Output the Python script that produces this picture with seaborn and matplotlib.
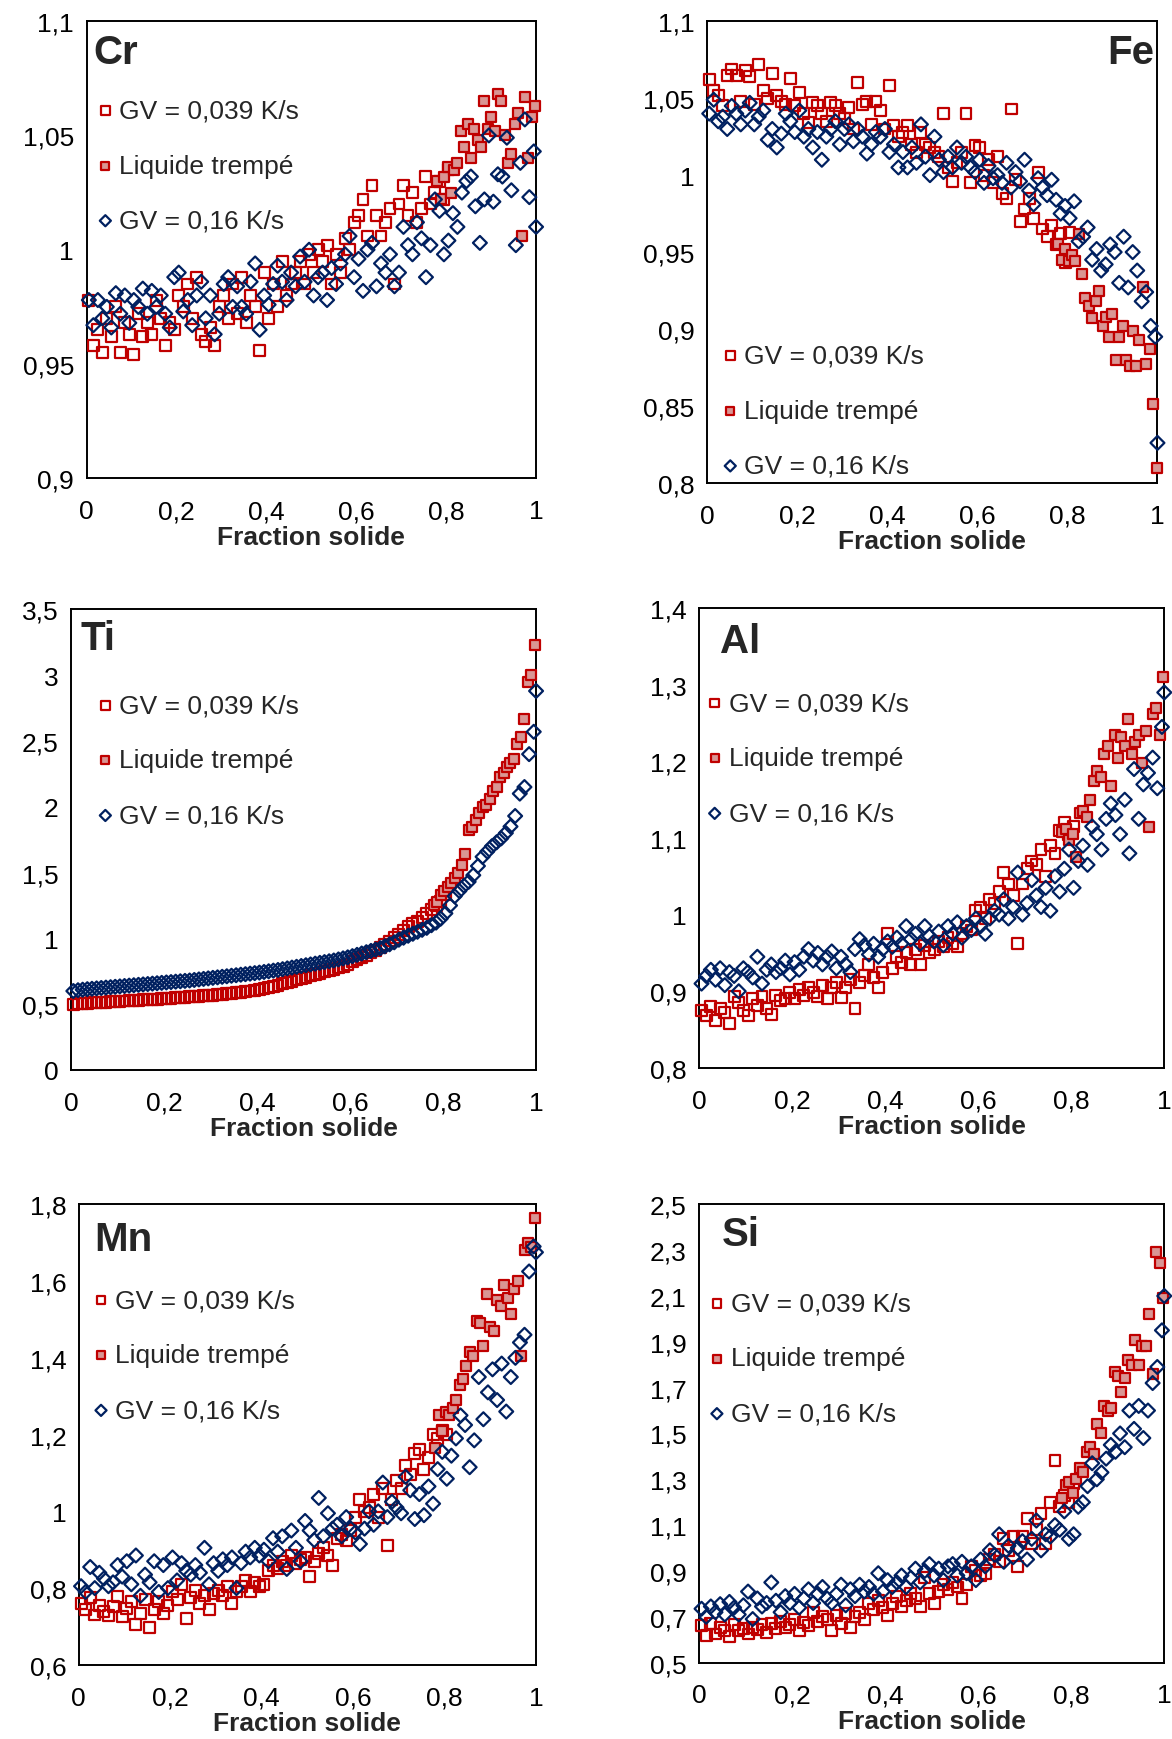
import matplotlib
matplotlib.use("Agg")
import matplotlib.pyplot as plt
from matplotlib.ticker import FuncFormatter
import seaborn as sns

# fraction solide positions of each series
FS_039 = [0.005, 0.015, 0.025, 0.035, 0.045, 0.055, 0.065, 0.075, 0.085, 0.095,
          0.105, 0.115, 0.125, 0.135, 0.145, 0.155, 0.165, 0.175, 0.185, 0.195,
          0.205, 0.215, 0.225, 0.235, 0.245, 0.255, 0.265, 0.275, 0.285, 0.295,
          0.305, 0.315, 0.325, 0.335, 0.345, 0.355, 0.365, 0.375, 0.385, 0.395,
          0.405, 0.415, 0.425, 0.435, 0.445, 0.455, 0.465, 0.475, 0.485, 0.495,
          0.505, 0.515, 0.525, 0.535, 0.545, 0.555, 0.565, 0.575, 0.585, 0.595,
          0.605, 0.615, 0.625, 0.635, 0.645, 0.655, 0.665, 0.675, 0.685, 0.695,
          0.705, 0.715, 0.725, 0.735, 0.745, 0.755, 0.765, 0.775, 0.785, 0.795,
          0.805]
FS_LT = [0.780, 0.788, 0.795, 0.803, 0.810, 0.818, 0.825, 0.833, 0.840, 0.848,
         0.855, 0.863, 0.870, 0.878, 0.885, 0.893, 0.900, 0.908, 0.915, 0.923,
         0.930, 0.938, 0.945, 0.953, 0.960, 0.968, 0.975, 0.983, 0.990, 0.998]
FS_016 = [0.005, 0.015, 0.025, 0.035, 0.045, 0.055, 0.065, 0.075, 0.085, 0.095,
          0.105, 0.115, 0.125, 0.135, 0.145, 0.155, 0.165, 0.175, 0.185, 0.195,
          0.205, 0.215, 0.225, 0.235, 0.245, 0.255, 0.265, 0.275, 0.285, 0.295,
          0.305, 0.315, 0.325, 0.335, 0.345, 0.355, 0.365, 0.375, 0.385, 0.395,
          0.405, 0.415, 0.425, 0.435, 0.445, 0.455, 0.465, 0.475, 0.485, 0.495,
          0.505, 0.515, 0.525, 0.535, 0.545, 0.555, 0.565, 0.575, 0.585, 0.595,
          0.605, 0.615, 0.625, 0.635, 0.645, 0.655, 0.665, 0.675, 0.685, 0.695,
          0.705, 0.715, 0.725, 0.735, 0.745, 0.755, 0.765, 0.775, 0.785, 0.795,
          0.805, 0.815, 0.825, 0.835, 0.845, 0.855, 0.865, 0.875, 0.885, 0.895,
          0.905, 0.915, 0.925, 0.935, 0.945, 0.955, 0.965, 0.975, 0.985, 0.995,
          1.000]

# Cr
CR_039 = [0.978, 0.958, 0.965, 0.955, 0.970, 0.962, 0.975, 0.955, 0.968, 0.963,
          0.954, 0.972, 0.962, 0.968, 0.963, 0.978, 0.970, 0.958, 0.968, 0.965,
          0.980, 0.975, 0.985, 0.970, 0.988, 0.963, 0.960, 0.966, 0.958, 0.975,
          0.980, 0.970, 0.985, 0.972, 0.988, 0.968, 0.980, 0.975, 0.956, 0.990,
          0.970, 0.985, 0.975, 0.995, 0.980, 0.985, 0.990, 0.995, 0.985, 0.998,
          0.990, 1.000, 0.995, 1.002, 0.985, 0.998, 0.990, 1.005, 1.000, 1.012,
          1.015, 1.022, 1.006, 1.028, 1.015, 1.006, 1.012, 1.018, 0.985, 1.020,
          1.028, 1.015, 1.025, 1.012, 1.018, 1.032, 1.020, 1.025, 1.030, 1.022,
          1.035]
CR_LT = [1.030, 1.022, 1.032, 1.036, 1.025, 1.035, 1.038, 1.052, 1.045, 1.055,
         1.040, 1.053, 1.048, 1.045, 1.065, 1.053, 1.058, 1.052, 1.068, 1.065,
         1.050, 1.038, 1.042, 1.055, 1.060, 1.006, 1.067, 1.040, 1.058, 1.063]
CR_016 = [0.978, 0.967, 0.978, 0.970, 0.975, 0.966, 0.981, 0.972, 0.980, 0.968,
          0.978, 0.975, 0.983, 0.972, 0.982, 0.975, 0.980, 0.972, 0.966, 0.988,
          0.990, 0.973, 0.978, 0.967, 0.980, 0.986, 0.970, 0.980, 0.963, 0.972,
          0.985, 0.988, 0.975, 0.984, 0.975, 0.972, 0.986, 0.994, 0.965, 0.980,
          0.976, 0.985, 0.993, 0.986, 0.978, 0.990, 0.984, 0.997, 0.986, 1.000,
          0.980, 0.988, 0.990, 0.978, 0.992, 0.985, 0.994, 0.998, 1.006, 0.988,
          0.996, 0.982, 1.000, 1.003, 0.984, 0.994, 0.990, 0.998, 0.984, 0.990,
          1.010, 1.002, 0.998, 1.012, 1.005, 0.988, 1.002, 1.022, 1.017, 0.998,
          1.004, 1.016, 1.010, 1.025, 1.030, 1.032, 1.019, 1.003, 1.022, 1.050,
          1.021, 1.033, 1.032, 1.049, 1.026, 1.002, 1.038, 1.057, 1.023, 1.043,
          1.010]

# Fe
FE_039 = [1.062, 1.055, 1.052, 1.045, 1.065, 1.069, 1.065, 1.048, 1.068, 1.064,
          1.046, 1.072, 1.055, 1.050, 1.066, 1.052, 1.048, 1.046, 1.063, 1.045,
          1.054, 1.040, 1.034, 1.047, 1.045, 1.040, 1.035, 1.047, 1.045, 1.040,
          1.037, 1.044, 1.030, 1.060, 1.046, 1.048, 1.033, 1.048, 1.042, 1.030,
          1.058, 1.032, 1.025, 1.028, 1.032, 1.020, 1.015, 1.028, 1.020, 1.018,
          1.015, 1.012, 1.040, 1.005, 0.996, 1.008, 1.015, 1.040, 0.995, 1.019,
          1.018, 1.000, 1.010, 0.995, 1.012, 0.988, 0.985, 1.043, 0.997, 0.970,
          0.978, 0.985, 0.972, 1.002, 0.965, 0.960, 0.967, 0.955, 0.962, 0.943,
          0.963]
FE_LT = [0.955, 0.945, 0.952, 0.944, 0.948, 0.944, 0.962, 0.936, 0.920, 0.915,
         0.907, 0.918, 0.925, 0.902, 0.908, 0.895, 0.910, 0.880, 0.895, 0.902,
         0.880, 0.876, 0.899, 0.876, 0.893, 0.927, 0.877, 0.887, 0.851, 0.810]
FE_016 = [1.040, 1.049, 1.035, 1.038, 1.030, 1.045, 1.040, 1.033, 1.042, 1.047,
          1.033, 1.038, 1.042, 1.023, 1.030, 1.018, 1.027, 1.040, 1.035, 1.028,
          1.042, 1.025, 1.030, 1.018, 1.028, 1.010, 1.025, 1.030, 1.035, 1.020,
          1.030, 1.033, 1.022, 1.030, 1.025, 1.014, 1.020, 1.028, 1.025, 1.030,
          1.015, 1.020, 1.005, 1.015, 1.005, 1.018, 1.008, 1.033, 1.012, 1.000,
          1.025, 1.010, 1.002, 1.012, 1.005, 1.018, 1.008, 1.012, 1.005, 1.002,
          1.010, 0.995, 1.006, 0.998, 1.000, 0.995, 1.008, 0.992, 1.002, 0.996,
          1.010, 0.990, 0.981, 0.998, 0.992, 0.987, 0.997, 0.984, 0.975, 0.980,
          0.972, 0.983, 0.957, 0.960, 0.966, 0.945, 0.952, 0.938, 0.942, 0.955,
          0.950, 0.930, 0.960, 0.927, 0.950, 0.938, 0.918, 0.924, 0.902, 0.895,
          0.826]

# Ti
TI_039 = [0.500, 0.502, 0.505, 0.507, 0.510, 0.512, 0.514, 0.516, 0.518, 0.520,
          0.522, 0.524, 0.526, 0.528, 0.530, 0.533, 0.535, 0.537, 0.539, 0.541,
          0.543, 0.546, 0.548, 0.551, 0.553, 0.556, 0.558, 0.561, 0.563, 0.566,
          0.569, 0.572, 0.575, 0.578, 0.582, 0.586, 0.590, 0.595, 0.600, 0.606,
          0.612, 0.620, 0.628, 0.636, 0.645, 0.655, 0.665, 0.675, 0.685, 0.695,
          0.705, 0.715, 0.725, 0.735, 0.745, 0.755, 0.765, 0.775, 0.786, 0.800,
          0.825, 0.840, 0.855, 0.870, 0.890, 0.910, 0.930, 0.955, 0.980, 1.005,
          1.030, 1.060, 1.090, 1.110, 1.130, 1.160, 1.190, 1.220, 1.250, 1.280,
          1.330]
TI_LT = [1.250, 1.280, 1.330, 1.360, 1.390, 1.420, 1.460, 1.500, 1.560, 1.640,
         1.820, 1.850, 1.900, 1.950, 2.000, 2.010, 2.060, 2.120, 2.150, 2.230,
         2.260, 2.300, 2.330, 2.360, 2.480, 2.530, 2.670, 2.950, 3.000, 3.230]
TI_016 = [0.600, 0.606, 0.610, 0.614, 0.617, 0.620, 0.623, 0.626, 0.629, 0.632,
          0.635, 0.638, 0.641, 0.644, 0.647, 0.650, 0.653, 0.656, 0.659, 0.662,
          0.665, 0.668, 0.671, 0.674, 0.677, 0.680, 0.684, 0.688, 0.692, 0.696,
          0.700, 0.704, 0.708, 0.712, 0.716, 0.720, 0.724, 0.728, 0.732, 0.736,
          0.740, 0.745, 0.750, 0.755, 0.760, 0.766, 0.772, 0.778, 0.784, 0.790,
          0.796, 0.802, 0.808, 0.814, 0.820, 0.826, 0.832, 0.840, 0.848, 0.856,
          0.865, 0.875, 0.885, 0.895, 0.905, 0.915, 0.925, 0.940, 0.955, 0.970,
          0.990, 1.005, 1.020, 1.035, 1.050, 1.065, 1.080, 1.100, 1.120, 1.150,
          1.190, 1.250, 1.320, 1.360, 1.400, 1.430, 1.480, 1.550, 1.620, 1.660,
          1.700, 1.730, 1.760, 1.800, 1.850, 1.930, 2.100, 2.150, 2.400, 2.570,
          2.880]

# Al
AL_039 = [0.875, 0.868, 0.880, 0.862, 0.878, 0.872, 0.858, 0.893, 0.885, 0.875,
          0.868, 0.890, 0.882, 0.893, 0.878, 0.870, 0.895, 0.888, 0.890, 0.898,
          0.890, 0.902, 0.895, 0.905, 0.898, 0.893, 0.908, 0.890, 0.905, 0.912,
          0.892, 0.905, 0.915, 0.878, 0.912, 0.920, 0.935, 0.918, 0.905, 0.925,
          0.975, 0.930, 0.945, 0.938, 0.950, 0.935, 0.955, 0.935, 0.960, 0.950,
          0.955, 0.965, 0.958, 0.970, 0.962, 0.958, 0.975, 0.985, 0.980, 1.005,
          1.010, 0.995, 1.020, 1.015, 1.030, 1.055, 1.040, 1.025, 0.962, 1.040,
          1.060, 1.070, 1.065, 1.085, 1.050, 1.090, 1.080, 1.110, 1.120, 1.105,
          1.115]
AL_LT = [1.108, 1.112, 1.098, 1.105, 1.075, 1.133, 1.135, 1.128, 1.150, 1.175,
         1.188, 1.180, 1.210, 1.220, 1.168, 1.235, 1.205, 1.232, 1.220, 1.255,
         1.210, 1.225, 1.235, 1.198, 1.240, 1.115, 1.262, 1.270, 1.235, 1.310]
AL_016 = [0.910, 0.920, 0.928, 0.915, 0.930, 0.908, 0.925, 0.920, 0.900, 0.930,
          0.925, 0.918, 0.945, 0.910, 0.928, 0.935, 0.925, 0.930, 0.940, 0.922,
          0.938, 0.928, 0.945, 0.955, 0.940, 0.950, 0.935, 0.945, 0.952, 0.930,
          0.945, 0.935, 0.925, 0.955, 0.968, 0.960, 0.948, 0.962, 0.945, 0.955,
          0.965, 0.958, 0.970, 0.962, 0.985, 0.968, 0.975, 0.962, 0.985, 0.972,
          0.965, 0.978, 0.960, 0.985, 0.975, 0.990, 0.970, 0.985, 0.980, 0.995,
          0.985, 0.975, 0.995, 1.005, 1.000, 1.020, 0.995, 1.010, 1.055, 1.000,
          1.015, 1.045, 1.025, 1.010, 1.035, 1.005, 1.050, 1.030, 1.060, 1.085,
          1.035, 1.070, 1.090, 1.065, 1.115, 1.105, 1.085, 1.125, 1.145, 1.130,
          1.105, 1.150, 1.080, 1.190, 1.125, 1.170, 1.185, 1.205, 1.165, 1.245,
          1.290]

# Mn
MN_039 = [0.760, 0.745, 0.775, 0.730, 0.755, 0.740, 0.728, 0.752, 0.778, 0.725,
          0.748, 0.765, 0.705, 0.735, 0.770, 0.698, 0.745, 0.765, 0.735, 0.755,
          0.790, 0.770, 0.810, 0.722, 0.775, 0.795, 0.760, 0.780, 0.745, 0.785,
          0.795, 0.780, 0.805, 0.760, 0.790, 0.805, 0.820, 0.790, 0.815, 0.805,
          0.810, 0.845, 0.860, 0.850, 0.870, 0.860, 0.885, 0.865, 0.875, 0.880,
          0.830, 0.870, 0.890, 0.905, 0.885, 0.860, 0.930, 0.940, 0.925, 0.950,
          0.985, 1.030, 1.000, 1.010, 1.045, 0.985, 1.060, 0.910, 1.030, 1.080,
          1.060, 1.120, 1.095, 1.150, 1.160, 1.110, 1.140, 1.200, 1.190, 1.210,
          1.200]
MN_LT = [1.165, 1.250, 1.210, 1.260, 1.250, 1.270, 1.290, 1.330, 1.345, 1.380,
         1.415, 1.405, 1.495, 1.490, 1.430, 1.565, 1.480, 1.470, 1.550, 1.535,
         1.590, 1.555, 1.515, 1.580, 1.600, 1.405, 1.680, 1.700, 1.690, 1.765]
MN_016 = [0.805, 0.790, 0.855, 0.800, 0.840, 0.825, 0.805, 0.815, 0.860, 0.830,
          0.870, 0.810, 0.885, 0.780, 0.835, 0.815, 0.870, 0.790, 0.860, 0.800,
          0.880, 0.820, 0.865, 0.845, 0.835, 0.860, 0.840, 0.905, 0.810, 0.865,
          0.845, 0.875, 0.860, 0.880, 0.800, 0.865, 0.895, 0.880, 0.905, 0.885,
          0.900, 0.870, 0.930, 0.895, 0.935, 0.850, 0.950, 0.905, 0.870, 0.975,
          0.950, 0.925, 1.035, 0.935, 0.995, 0.955, 0.965, 0.935, 0.985, 0.955,
          0.945, 0.915, 0.955, 1.000, 0.965, 1.000, 1.075, 0.985, 1.025, 1.010,
          0.995, 1.090, 1.055, 0.980, 1.045, 0.990, 1.065, 1.020, 1.110, 1.155,
          1.085, 1.145, 1.190, 1.250, 1.225, 1.115, 1.185, 1.350, 1.240, 1.310,
          1.370, 1.290, 1.385, 1.260, 1.350, 1.400, 1.440, 1.460, 1.625, 1.690,
          1.675]

# Si
SI_039 = [0.660, 0.620, 0.670, 0.625, 0.655, 0.640, 0.615, 0.665, 0.640, 0.650,
          0.625, 0.655, 0.645, 0.665, 0.630, 0.670, 0.650, 0.680, 0.655, 0.665,
          0.690, 0.640, 0.675, 0.660, 0.720, 0.680, 0.700, 0.690, 0.640, 0.705,
          0.670, 0.715, 0.655, 0.700, 0.720, 0.690, 0.760, 0.730, 0.770, 0.740,
          0.705, 0.760, 0.790, 0.745, 0.770, 0.800, 0.780, 0.745, 0.870, 0.800,
          0.760, 0.810, 0.840, 0.820, 0.850, 0.830, 0.780, 0.840, 0.920, 0.900,
          0.880, 0.890, 0.950, 0.970, 0.940, 1.040, 0.990, 1.050, 0.920, 1.050,
          1.130, 1.020, 1.080, 1.150, 1.020, 1.200, 1.380, 1.180, 1.230, 1.200,
          1.280]
SI_LT = [1.220, 1.275, 1.290, 1.240, 1.300, 1.350, 1.330, 1.420, 1.440, 1.410,
         1.540, 1.500, 1.620, 1.600, 1.610, 1.770, 1.750, 1.680, 1.740, 1.820,
         1.800, 1.910, 1.800, 1.880, 1.880, 2.020, 1.760, 2.290, 2.245, 2.090]
SI_016 = [0.735, 0.700, 0.745, 0.720, 0.755, 0.710, 0.765, 0.740, 0.710, 0.750,
          0.810, 0.690, 0.780, 0.745, 0.760, 0.850, 0.770, 0.720, 0.790, 0.760,
          0.800, 0.740, 0.780, 0.820, 0.760, 0.800, 0.830, 0.780, 0.760, 0.800,
          0.840, 0.750, 0.820, 0.790, 0.840, 0.810, 0.830, 0.800, 0.890, 0.810,
          0.860, 0.830, 0.850, 0.880, 0.830, 0.870, 0.910, 0.850, 0.900, 0.930,
          0.880, 0.910, 0.860, 0.920, 0.930, 0.880, 0.940, 0.890, 0.920, 0.860,
          0.950, 0.920, 0.990, 0.970, 1.060, 0.940, 1.010, 0.960, 1.000, 1.030,
          0.950, 1.040, 1.120, 0.990, 1.060, 1.050, 1.100, 1.080, 1.160, 1.040,
          1.060, 1.180, 1.200, 1.270, 1.370, 1.300, 1.330, 1.390, 1.450, 1.420,
          1.500, 1.440, 1.600, 1.520, 1.620, 1.480, 1.600, 1.720, 1.790, 1.950,
          2.100]

X_TICKS = [0, 0.2, 0.4, 0.6, 0.8, 1]

RED = "#C00000"
PINK = "#D99694"
NAVY = "#002060"

sns.set_style("white")
plt.rcParams["font.family"] = ["Liberation Sans", "DejaVu Sans"]


def comma(v, pos=None):
    return f"{round(v, 3):g}".replace(".", ",")


# rect = axes box, tag/leg = figure fractions for element name and legend
panels = [
    dict(name="Cr", y039=CR_039, ylt=CR_LT, y016=CR_016, ylim=(0.9, 1.1),
         yticks=[0.9, 0.95, 1.0, 1.05, 1.1], rect=[0.0739, 0.7245, 0.3835, 0.2628],
         tag=(0.0795, 0.9694, "left"), leg=(0.0837, 0.9043)),
    dict(name="Fe", y039=FE_039, ylt=FE_LT, y016=FE_016, ylim=(0.8, 1.1),
         yticks=[0.8, 0.85, 0.9, 0.95, 1.0, 1.05, 1.1], rect=[0.6032, 0.7219, 0.3844, 0.2653],
         tag=(0.9848, 0.9694, "right"), leg=(0.6169, 0.7634)),
    dict(name="Ti", y039=TI_039, ylt=TI_LT, y016=TI_016, ylim=(0, 3.5),
         yticks=[0, 0.5, 1, 1.5, 2, 2.5, 3, 3.5], rect=[0.0606, 0.3845, 0.3968, 0.2647],
         tag=(0.0691, 0.6326, "left"), leg=(0.0837, 0.5625)),
    dict(name="Al", y039=AL_039, ylt=AL_LT, y016=AL_016, ylim=(0.8, 1.4),
         yticks=[0.8, 0.9, 1.0, 1.1, 1.2, 1.3, 1.4], rect=[0.5966, 0.3857, 0.3968, 0.2642],
         tag=(0.6146, 0.6313, "left"), leg=(0.6036, 0.5637)),
    dict(name="Mn", y039=MN_039, ylt=MN_LT, y016=MN_016, ylim=(0.6, 1.8),
         yticks=[0.6, 0.8, 1.0, 1.2, 1.4, 1.6, 1.8], rect=[0.0672, 0.0426, 0.3901, 0.2647],
         tag=(0.0805, 0.2875, "left"), leg=(0.0800, 0.2206)),
    dict(name="Si", y039=SI_039, ylt=SI_LT, y016=SI_016, ylim=(0.5, 2.5),
         yticks=[0.5, 0.7, 0.9, 1.1, 1.3, 1.5, 1.7, 1.9, 2.1, 2.3, 2.5],
         rect=[0.5966, 0.0439, 0.3968, 0.2634],
         tag=(0.6155, 0.2901, "left"), leg=(0.6055, 0.2187)),
]

fig = plt.figure(figsize=(11.72, 17.40), dpi=100)

for p in panels:
    ax = fig.add_axes(p["rect"])
    sns.scatterplot(x=FS_039, y=p["y039"], ax=ax, marker="s", s=62,
                    facecolor="none", edgecolor=RED, linewidth=1.6,
                    label="GV = 0,039 K/s", clip_on=False, zorder=3)
    sns.scatterplot(x=FS_LT, y=p["ylt"], ax=ax, marker="s", s=62,
                    facecolor=PINK, edgecolor=RED, linewidth=1.6,
                    label="Liquide trempé", clip_on=False, zorder=3)
    sns.scatterplot(x=FS_016, y=p["y016"], ax=ax, marker="D", s=50,
                    facecolor="none", edgecolor=NAVY, linewidth=1.6,
                    label="GV = 0,16 K/s", clip_on=False, zorder=4)

    ax.set_xlim(0, 1)
    ax.set_ylim(*p["ylim"])
    ax.set_xticks(X_TICKS)
    ax.set_yticks(p["yticks"])
    ax.xaxis.set_major_formatter(FuncFormatter(comma))
    ax.yaxis.set_major_formatter(FuncFormatter(comma))
    ax.tick_params(direction="out", length=6, width=1.4, labelsize=19,
                   colors="black")
    ax.tick_params(axis="x", pad=9)
    ax.tick_params(axis="y", pad=3)
    for sp in ax.spines.values():
        sp.set_visible(True)
        sp.set_linewidth(1.4)
        sp.set_color("black")
    ax.set_xlabel("Fraction solide", fontsize=19, fontweight="bold", labelpad=1)
    ax.set_ylabel("")

    tx, ty, ha = p["tag"]
    fig.text(tx, ty, p["name"], fontsize=29, fontweight="bold", ha=ha, va="center")

    ax.legend(loc="center left", bbox_to_anchor=p["leg"],
              bbox_transform=fig.transFigure, frameon=False,
              fontsize=19, handlelength=0.55, handletextpad=0.25,
              labelspacing=1.18, borderpad=0, borderaxespad=0,
              markerscale=0.8, scatterpoints=1)

fig.savefig("out.png", dpi=100)
